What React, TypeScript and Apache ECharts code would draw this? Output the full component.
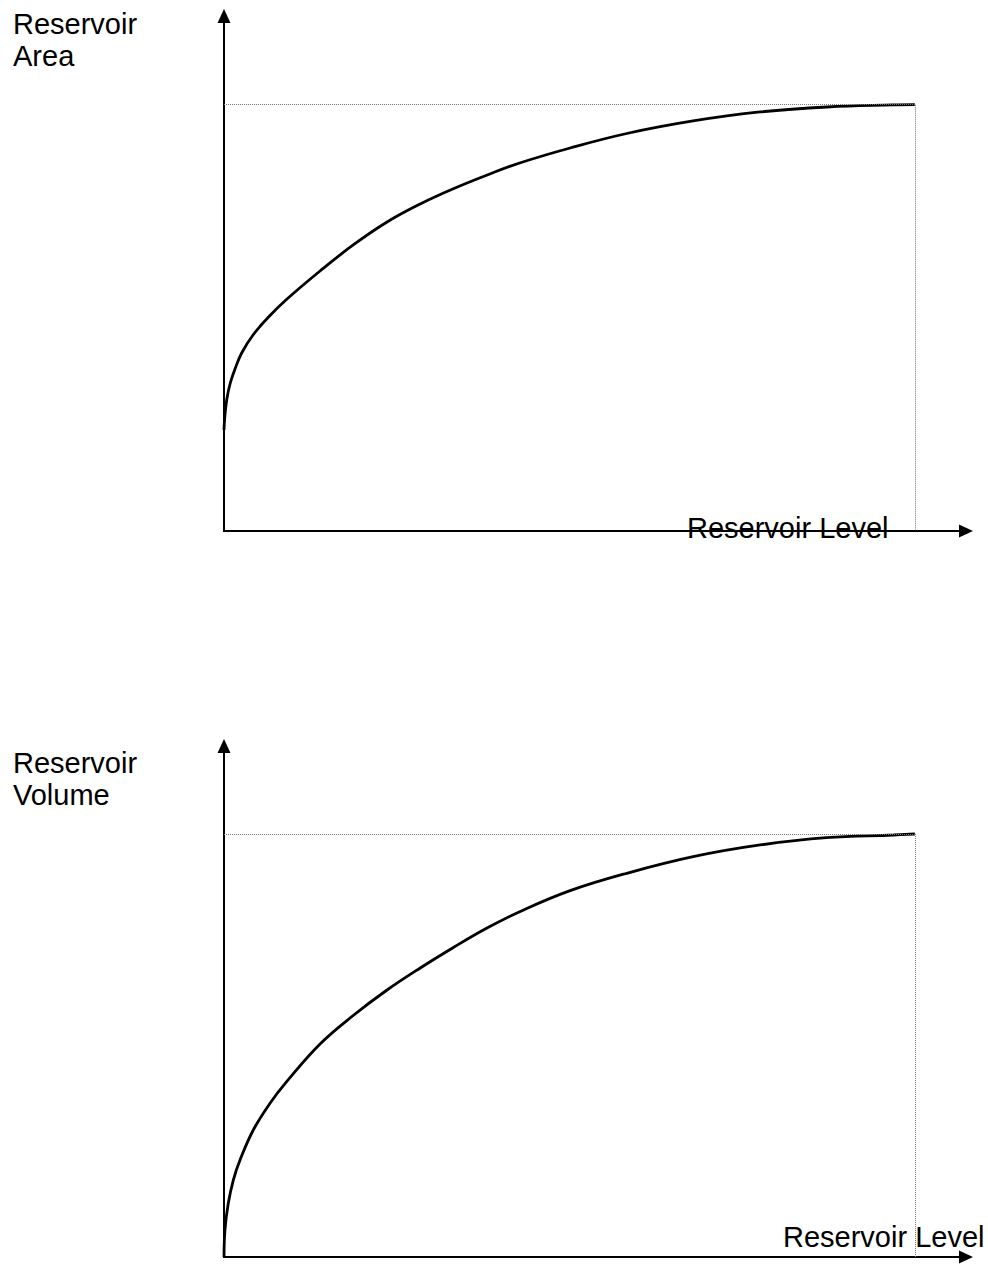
import React, { useEffect, useRef } from "react";
import * as echarts from "echarts";

// Top chart: reservoir area vs level (schematic, relative units)
const areaLevels = [0, 0.1, 0.39, 0.87, 1.59, 2.56, 4.2, 6.66, 9.12, 13.9, 18.7, 23.6, 28.4, 33.1, 38.1, 42.8, 50.1, 58.3, 67.9, 77.6, 87.3, 96.8, 100];
const areaValues = [23.69, 26.51, 30.73, 34.48, 38.0, 41.75, 45.98, 50.55, 54.42, 60.99, 67.09, 72.48, 76.71, 80.22, 83.51, 86.32, 89.84, 93.24, 96.18, 98.29, 99.46, 99.93, 100];

// Bottom chart: reservoir volume vs level
const volumeLevels = [0, 0.14, 0.62, 1.35, 2.32, 4.24, 6.66, 9.07, 13.9, 18.7, 23.5, 28.4, 33.2, 38.0, 42.8, 50.1, 58.3, 67.9, 77.6, 87.2, 96.9, 100];
const volumeValues = [0, 6.38, 12.7, 18.2, 22.93, 30.02, 36.34, 41.44, 50.35, 57.09, 63.0, 68.32, 73.17, 77.71, 81.63, 86.6, 90.71, 94.63, 97.4, 99.13, 99.76, 100];

const maxLevel = 100;
const maxValue = 100;
const xAxisMax = 107.4;
const yAxisMax = 120.8;

const FONT = '"Liberation Sans", Arial, sans-serif';

export default function App() {
  const ref = useRef<HTMLDivElement>(null);

  useEffect(() => {
    document.body.style.margin = "0";
    if (!ref.current) return;
    const chart = echarts.init(ref.current, null, { renderer: "svg" });

    const axisLine = {
      show: true,
      onZero: false,
      symbol: ["none", "triangle"],
      symbolSize: [13, 14],
      lineStyle: { color: "#000", width: 2 },
    };
    const hidden = {
      axisTick: { show: false },
      axisLabel: { show: false },
      splitLine: { show: false },
    };

    const dotted = {
      silent: true,
      symbol: ["none", "none"],
      label: { show: false },
      lineStyle: { color: "#777", width: 1, type: "dotted" },
      emphasis: { disabled: true },
      data: [
        [{ coord: [0, maxValue] }, { coord: [maxLevel, maxValue] }],
        [{ coord: [maxLevel, maxValue] }, { coord: [maxLevel, 0] }],
      ],
    };

    const pair = (xs: number[], ys: number[]) => xs.map((x, i) => [x, ys[i]]);

    const textStyle = (text: string, x: number, y: number, va: string) => ({
      type: "text",
      x,
      y,
      silent: true,
      style: {
        text,
        font: `29px ${FONT}`,
        fill: "#000",
        lineHeight: 32,
        verticalAlign: va,
      },
    });

    chart.setOption({
      animation: false,
      backgroundColor: "#fff",
      grid: [
        { left: 224, top: 16, width: 742, height: 515 },
        { left: 224, top: 746, width: 742, height: 511 },
      ],
      xAxis: [0, 1].map((i) => ({
        type: "value",
        gridIndex: i,
        min: 0,
        max: xAxisMax,
        axisLine,
        ...hidden,
      })),
      yAxis: [0, 1].map((i) => ({
        type: "value",
        gridIndex: i,
        min: 0,
        max: yAxisMax,
        axisLine,
        ...hidden,
      })),
      series: [
        {
          type: "line",
          xAxisIndex: 0,
          yAxisIndex: 0,
          data: pair(areaLevels, areaValues),
          smooth: 0.4,
          showSymbol: false,
          lineStyle: { color: "#000", width: 2.8 },
          markLine: dotted,
        },
        {
          type: "line",
          xAxisIndex: 1,
          yAxisIndex: 1,
          data: pair(volumeLevels, volumeValues),
          smooth: 0.4,
          showSymbol: false,
          lineStyle: { color: "#000", width: 2.8 },
          markLine: dotted,
        },
      ],
      graphic: [
        textStyle("Reservoir\nArea", 13, 7.6, "top"),
        textStyle("Reservoir Level", 687, 528.3, "middle"),
        textStyle("Reservoir\nVolume", 13, 747, "top"),
        textStyle("Reservoir Level", 783, 1237.3, "middle"),
      ],
    });

    return () => chart.dispose();
  }, []);

  return <div ref={ref} style={{ width: 988, height: 1266 }} />;
}
